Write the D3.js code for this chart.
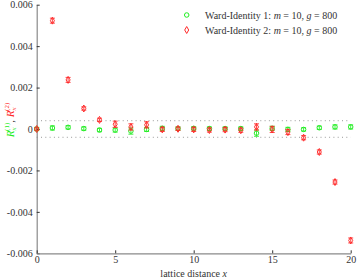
<!DOCTYPE html>
<html>
<head>
<meta charset="utf-8">
<script src="https://cdn.jsdelivr.net/npm/d3@7"></script>
<style>
  body { margin: 0; background: #fff; }
  svg { display: block; font-family: "Liberation Serif", "DejaVu Serif", serif; }
</style>
</head>
<body>
<svg id="chart" width="357" height="278"></svg>
<script>
// lattice distances
const xs = d3.range(0, 21);

// Ward-Identity 1 (green circles)
const wi1 = [0, 0.00005, 0.00008, 0.00002, -0.00005, -0.00005, -0.0001, -0.00002, 0.00003, 0.00002,
  0.00003, 0.00002, 0.00002, 0.00002, -0.0002, 0.00003, -0.00002, -0.00002, 0.00006, 0.0001, 0.0001];
const wi1Err = [0.00008, 0.0001, 0.00008, 0.00008, 0.00008, 0.0001, 0.00015, 0.0001, 0.0001, 0.00008,
  0.00008, 0.00008, 0.00008, 0.00008, 0.00015, 0.0001, 0.0001, 0.00008, 0.00008, 0.0001, 0.0001];

// Ward-Identity 2 (red diamonds)
const wi2 = [0, 0.00523, 0.00237, 0.00099, 0.00044, 0.00023, 0.0001, 0.0002, -0.00002, 0.00001,
  -0.00002, -0.00005, -0.00003, -0.00006, 0.0001, -0.00002, -0.00015, -0.00042, -0.00111, -0.00256, -0.00538];
const wi2Err = [0.00006, 0.00012, 0.00012, 0.00008, 0.00008, 0.00015, 0.00015, 0.00015, 0.0001, 0.00008,
  0.0001, 0.0001, 0.0001, 0.0001, 0.00015, 0.00015, 0.00012, 0.0001, 0.0001, 0.0001, 0.00012];

const yTicks = [0.006, 0.004, 0.002, 0, -0.002, -0.004, -0.006];
const yTickLabels = ['0.006', '0.004', '0.002', '0', '-0.002', '-0.004', '-0.006'];
const xTicks = [0, 5, 10, 15, 20];
const band = 0.0004; // dotted guide lines

const legendLabels = ['Ward-Identity 1: ', 'Ward-Identity 2: '];

const GREEN = '#22ee22';
const RED = '#ff2a2a';
const AXIS = '#8a8a8a';
const FONT = '"Liberation Serif", "DejaVu Serif", serif';

const svg = d3.select('#chart');
const margin = { left: 36.7, right: 6.3, top: 4.7, bottom: 24.7 };
const W = 357, H = 278;

const x = d3.scaleLinear().domain([0, 20]).range([margin.left, W - margin.right]);
const y = d3.scaleLinear().domain([-0.006, 0.006]).range([H - margin.bottom, margin.top]);

// dotted guides
svg.selectAll('line.guide')
  .data([band, -band])
  .enter().append('line')
  .attr('class', 'guide')
  .attr('x1', x(0)).attr('x2', x(20))
  .attr('y1', d => y(d)).attr('y2', d => y(d))
  .attr('stroke', '#999').attr('stroke-width', 1)
  .attr('stroke-dasharray', '1,3.3');

// axes
const yAxis = d3.axisLeft(y).tickValues(yTicks)
  .tickFormat((d, i) => yTickLabels[i]).tickSizeInner(-3).tickSizeOuter(0).tickPadding(4);
const gy = svg.append('g').attr('transform', 'translate(' + margin.left + ',0)').call(yAxis);

const xAxis = d3.axisBottom(x).tickValues(xTicks).tickSizeInner(-3).tickSizeOuter(0).tickPadding(3);
const gx = svg.append('g').attr('transform', 'translate(0,' + (H - margin.bottom) + ')').call(xAxis);

[gx, gy].forEach(g => {
  g.attr('font-family', FONT).attr('font-size', 10);
  g.select('.domain').attr('stroke', AXIS).attr('stroke-width', 1.2);
  g.selectAll('.tick line').attr('stroke', '#333');
  g.selectAll('.tick text').attr('fill', '#333');
});

// error bars + markers
function drawSeries(vals, errs, color, shape) {
  const g = svg.append('g');
  const pts = xs.map((d, i) => ({ x: d, y: vals[i], e: errs[i] }));
  const eb = g.selectAll('g.eb').data(pts).enter().append('g')
    .attr('stroke', color).attr('stroke-width', 1).attr('opacity', 0.85);
  eb.append('line')
    .attr('x1', d => x(d.x)).attr('x2', d => x(d.x))
    .attr('y1', d => y(d.y - d.e)).attr('y2', d => y(d.y + d.e));
  [1, -1].forEach(s => {
    eb.append('line')
      .attr('x1', d => x(d.x) - 2.5).attr('x2', d => x(d.x) + 2.5)
      .attr('y1', d => y(d.y + s * d.e)).attr('y2', d => y(d.y + s * d.e));
  });
  const sym = shape === 'circle'
    ? d3.symbol().type(d3.symbolCircle).size(16)
    : d3.symbol().type(d3.symbolDiamond).size(14);
  g.selectAll('path.m').data(pts).enter().append('path')
    .attr('transform', d => 'translate(' + x(d.x) + ',' + y(d.y) + ')')
    .attr('d', sym)
    .attr('fill', 'none').attr('stroke', color).attr('stroke-width', 1);
}
drawSeries(wi1, wi1Err, GREEN, 'circle');
drawSeries(wi2, wi2Err, RED, 'diamond');

// legend
const leg = svg.append('g');
const legItems = [
  { label: legendLabels[0], color: GREEN, shape: d3.symbolCircle, size: 16 },
  { label: legendLabels[1], color: RED, shape: d3.symbolDiamond, size: 14 }
];
legItems.forEach((it, i) => {
  const yy = 15 + i * 15;
  leg.append('path')
    .attr('transform', 'translate(186.7,' + yy + ')')
    .attr('d', d3.symbol().type(it.shape).size(it.size))
    .attr('fill', 'none').attr('stroke', it.color).attr('stroke-width', 1);
  const t = leg.append('text').attr('x', 205).attr('y', yy + 3.5)
    .attr('fill', '#333').style('font-size', '10px');
  t.append('tspan').text(it.label);
  t.append('tspan').style('font-style', 'italic').text('m');
  t.append('tspan').text(' = 10, ');
  t.append('tspan').style('font-style', 'italic').text('g');
  t.append('tspan').text(' = 800');
});

// x label
const xl = svg.append('text').attr('x', x(10)).attr('y', 276.5)
  .attr('text-anchor', 'middle').attr('fill', '#333').style('font-size', '10px');
xl.append('tspan').text('lattice distance ');
xl.append('tspan').style('font-style', 'italic').text('x');

// y label
const yl = svg.append('text')
  .attr('transform', 'translate(14,' + 120 + ') rotate(-90)')
  .attr('text-anchor', 'middle').style('font-size', '11px');
yl.append('tspan').attr('fill', GREEN).style('font-style', 'italic').text('R');
yl.append('tspan').attr('fill', GREEN).style('font-style', 'italic').style('font-size', '7px').attr('dy', 2).text('x');
yl.append('tspan').attr('fill', GREEN).style('font-size', '7px').attr('dx', -3.5).attr('dy', -7).text('(1)');
yl.append('tspan').attr('fill', '#333').attr('dy', 5).text(', ');
yl.append('tspan').attr('fill', RED).style('font-style', 'italic').text('R');
yl.append('tspan').attr('fill', RED).style('font-style', 'italic').style('font-size', '7px').attr('dy', 2).text('x');
yl.append('tspan').attr('fill', RED).style('font-size', '7px').attr('dx', -3.5).attr('dy', -7).text('(2)');
</script>
</body>
</html>
